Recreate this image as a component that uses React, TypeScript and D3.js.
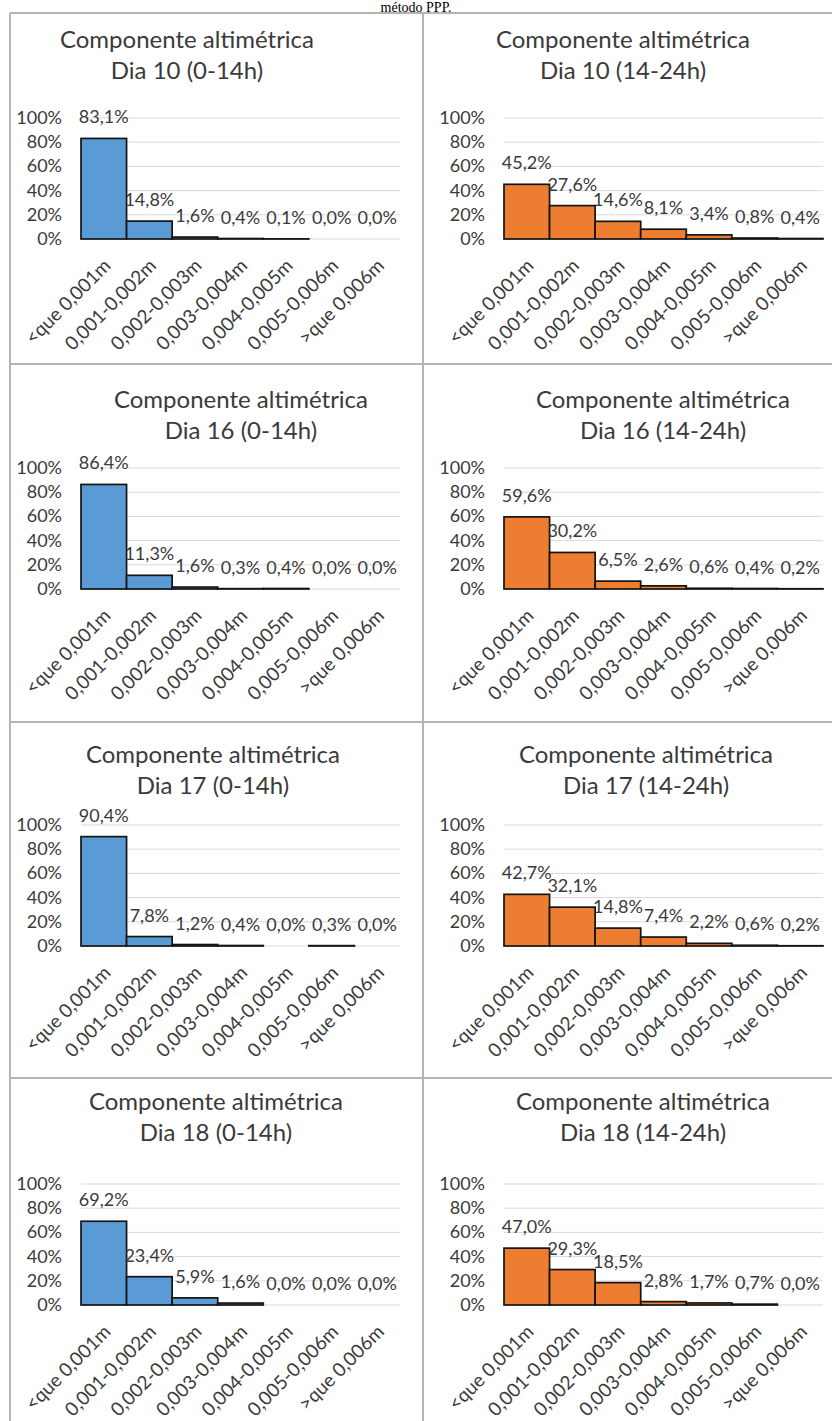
import React, { useEffect, useRef } from 'react';
import * as d3 from 'd3';

const categories = [
    '<que 0,001m',
    '0,001-0,002m',
    '0,002-0,003m',
    '0,003-0,004m',
    '0,004-0,005m',
    '0,005-0,006m',
    '>que 0,006m',
];

const yTicks = [0, 20, 40, 60, 80, 100];

const dia10Manha = [83.1, 14.8, 1.6, 0.4, 0.1, 0.0, 0.0];
const dia10Tarde = [45.2, 27.6, 14.6, 8.1, 3.4, 0.8, 0.4];
const dia16Manha = [86.4, 11.3, 1.6, 0.3, 0.4, 0.0, 0.0];
const dia16Tarde = [59.6, 30.2, 6.5, 2.6, 0.6, 0.4, 0.2];
const dia17Manha = [90.4, 7.8, 1.2, 0.4, 0.0, 0.3, 0.0];
const dia17Tarde = [42.7, 32.1, 14.8, 7.4, 2.2, 0.6, 0.2];
const dia18Manha = [69.2, 23.4, 5.9, 1.6, 0.0, 0.0, 0.0];
const dia18Tarde = [47.0, 29.3, 18.5, 2.8, 1.7, 0.7, 0.0];

const titles = [
    'Dia 10 (0-14h)', 'Dia 10 (14-24h)',
    'Dia 16 (0-14h)', 'Dia 16 (14-24h)',
    'Dia 17 (0-14h)', 'Dia 17 (14-24h)',
    'Dia 18 (0-14h)', 'Dia 18 (14-24h)',
];
const series = [
    dia10Manha, dia10Tarde,
    dia16Manha, dia16Tarde,
    dia17Manha, dia17Tarde,
    dia18Manha, dia18Tarde,
];

// table layout (page pixels)
const rowTops = [13, 364, 722, 1078];
const colLefts = [10, 423];
const plotLeft = [81, 504];
const plotTop = [118, 468, 825, 1184]; // y of the 100% gridline
const titleX = [187, 623, 241, 663, 213, 646, 216, 643];
const titleY = [48, 408, 763, 1110];

const W = 832;
const H = 1421;
const plotW = 319;
const plotH = 121;
const FONT = "Lato, 'Noto Sans', sans-serif";
const BLUE = '#5b9bd5';
const ORANGE = '#ed7d31';
const INK = '#3a3a3a';

const fmt = (v: number) => v.toFixed(1).replace('.', ',') + '%';

const App: React.FC = () => {
    const svgRef = useRef<SVGSVGElement | null>(null);

    useEffect(() => {
        const svg = d3.select(svgRef.current);
        svg.selectAll('*').remove();

        svg.append('rect').attr('width', W).attr('height', H).attr('fill', '#fff');

        // caption above the table
        svg.append('text')
            .attr('x', 416).attr('y', 12)
            .attr('text-anchor', 'middle')
            .style('font-family', "'Liberation Serif', 'DejaVu Serif', serif")
            .style('font-size', '14px')
            .text('método PPP.');

        // table borders
        const borders = svg.append('g').attr('stroke', '#b4b4b4').attr('stroke-width', 2);
        rowTops.forEach(y => {
            borders.append('line').attr('x1', colLefts[0]).attr('x2', W).attr('y1', y).attr('y2', y);
        });
        colLefts.forEach(x => {
            borders.append('line').attr('x1', x).attr('x2', x).attr('y1', rowTops[0]).attr('y2', H);
        });

        series.forEach((values, i) => {
            const row = Math.floor(i / 2);
            const col = i % 2;
            const x0 = plotLeft[col];
            const y0 = plotTop[row];
            const color = col === 0 ? BLUE : ORANGE;

            const x = d3.scaleBand<string>()
                .domain(categories)
                .range([x0, x0 + plotW])
                .padding(0);
            const y = d3.scaleLinear()
                .domain([0, 100])
                .range([y0 + plotH, y0]);

            const g = svg.append('g');

            // title
            const title = g.append('text')
                .attr('text-anchor', 'middle')
                .style('font-family', FONT)
                .style('font-size', '24px')
                .attr('fill', INK);
            title.append('tspan').attr('x', titleX[i]).attr('y', titleY[row]).text('Componente altimétrica');
            title.append('tspan').attr('x', titleX[i]).attr('y', titleY[row] + 31).text(titles[i]);

            // gridlines
            g.append('g')
                .selectAll('line')
                .data(yTicks)
                .enter()
                .append('line')
                .attr('x1', x0)
                .attr('x2', x0 + plotW)
                .attr('y1', d => y(d))
                .attr('y2', d => y(d))
                .attr('stroke', '#d9d9d9')
                .attr('stroke-width', 1);

            // y tick labels
            g.append('g')
                .selectAll('text')
                .data(yTicks)
                .enter()
                .append('text')
                .attr('x', x0 - 19)
                .attr('y', d => y(d) + 6)
                .attr('text-anchor', 'end')
                .style('font-family', FONT)
                .style('font-size', '18px')
                .attr('fill', INK)
                .text(d => d + '%');

            const data = values.map((v, j) => ({ cat: categories[j], v }));

            // bars
            g.append('g')
                .selectAll('rect')
                .data(data.filter(d => d.v > 0))
                .enter()
                .append('rect')
                .attr('x', d => x(d.cat)!)
                .attr('y', d => y(d.v))
                .attr('width', x.bandwidth())
                .attr('height', d => y(0) - y(d.v))
                .attr('fill', color)
                .attr('stroke', '#141414')
                .attr('stroke-width', 1.7);

            // value labels
            g.append('g')
                .selectAll('text')
                .data(data)
                .enter()
                .append('text')
                .attr('x', d => x(d.cat)! + x.bandwidth() / 2)
                .attr('y', d => y(d.v) - 15)
                .attr('text-anchor', 'middle')
                .style('font-family', FONT)
                .style('font-size', '18px')
                .attr('fill', INK)
                .text(d => fmt(d.v));

            // rotated category labels
            g.append('g')
                .selectAll('text')
                .data(categories)
                .enter()
                .append('text')
                .attr('transform', d => `translate(${x(d)! + x.bandwidth() / 2 + 8},${y(0) + 28}) rotate(-45)`)
                .attr('text-anchor', 'end')
                .style('font-family', FONT)
                .style('font-size', '19px')
                .attr('fill', INK)
                .text(d => d);
        });
    }, []);

    return (
        <svg
            ref={svgRef}
            width={W}
            height={H}
            style={{ position: 'absolute', left: 0, top: 0, display: 'block' }}
        />
    );
};

export default App;
